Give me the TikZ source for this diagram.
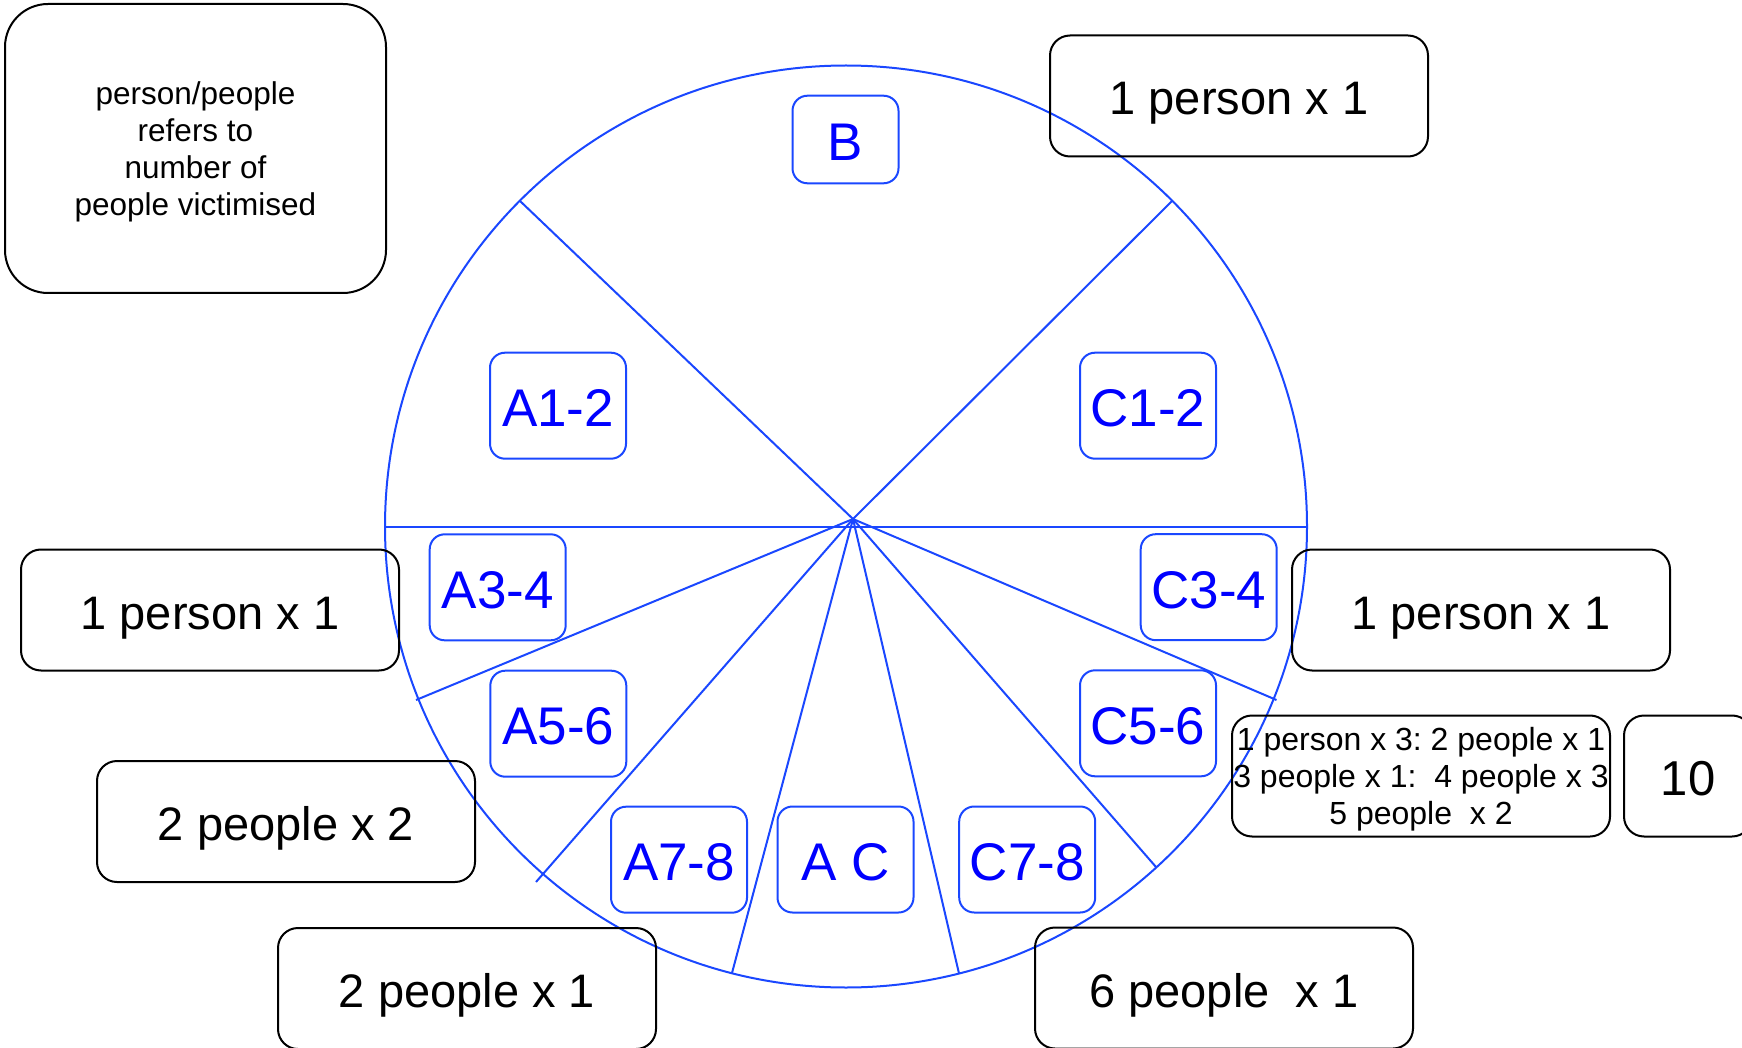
\documentclass[tikz,border=0pt]{standalone}
\usepackage{fontspec}
\setmainfont{Liberation Sans}
\frenchspacing
\definecolor{lineblue}{HTML}{1A47FF}
\definecolor{textblue}{HTML}{0000FF}
\tikzset{
  blk/.style={draw=black, line width=2pt, rounded corners=20pt, minimum width=378pt,
    minimum height=121pt, inner sep=0pt, align=center, text depth=0pt,
    font=\fontsize{47}{56}\selectfont},
  one/.style={text height=38pt},
  lbl/.style={draw=lineblue, line width=2pt, rounded corners=15pt, minimum width=136pt,
    minimum height=106pt, inner sep=0pt, text=textblue, text depth=0pt, text height=42pt,
    font=\fontsize{53}{60}\selectfont},
  bl/.style={draw=lineblue, line width=2pt},
}
\begin{document}
\begin{tikzpicture}[x=1pt,y=-1pt]
\useasboundingbox (0,0) rectangle (1742,1048);
\clip (0,0) rectangle (1742,1048);
% wheel
\coordinate (ctr) at (853,519);
\draw[bl] (846,526.5) circle[radius=461pt];
\coordinate (hl) at (385,526.7);
\coordinate (hr) at (1307,526.7);
\draw[bl] (hl) -- (hr);
\coordinate (r1) at (520,201);
\coordinate (r2) at (1172,201);
\coordinate (r3) at (416,700);
\coordinate (r4) at (536,882);
\coordinate (r5) at (732,973);
\coordinate (r6) at (959,973.5);
\coordinate (r7) at (1156,867);
\coordinate (r8) at (1276.5,700);
\foreach \e in {r1,r2,r3,r4,r5,r6,r7,r8} \draw[bl] (ctr) -- (\e);
% blue labels
\node[lbl, minimum width=106pt, minimum height=87.6pt] (B) at (845.5,139.5) {B};
\node[lbl] (A12) at (558,405.7) {A1-2};
\node[lbl] (C12) at (1148,405.7) {C1-2};
\node[lbl] (A34) at (497.7,587.3) {A3-4};
\node[lbl] (C34) at (1208.7,587.2) {C3-4};
\node[lbl] (A56) at (558.3,723.7) {A5-6};
\node[lbl] (C56) at (1148,723.3) {C5-6};
\node[lbl] (A78) at (679,859.7) {A7-8};
\node[lbl] (AC) at (845.5,859.5) {A C};
\node[lbl] (C78) at (1027.2,859.5) {C7-8};
% black boxes
\node[blk, rounded corners=43pt, minimum width=381pt, minimum height=289pt,
  font=\fontsize{31.5}{37.2}\selectfont] (note) at (195.5,148.5)
  {person/people\\refers to\\number of\\people victimised};
\node[blk, one] (top1) at (1239,96) {1 person x 1};
\node[blk, one] (left1) at (210,610) {1 person x 1};
\node[blk, one] (right1) at (1481,610) {1 person x 1};
\node[blk, one] (p22) at (286,821.5) {2 people x 2};
\node[blk, one] (p21) at (467,988.5) {2 people x 1};
\node[blk, one] (p61) at (1224,988) {6 people\ \ x 1};
\node[blk, font=\fontsize{32}{36.7}\selectfont] (multi) at (1421,776)
  {1 person x 3: 2 people x 1\\3 people x 1:\ \ 4 people x 3\\5 people\ \ x 2};
\node[blk, one, minimum width=128pt, font=\fontsize{49}{56}\selectfont] (ten) at (1688,776) {10};
\end{tikzpicture}
\end{document}
